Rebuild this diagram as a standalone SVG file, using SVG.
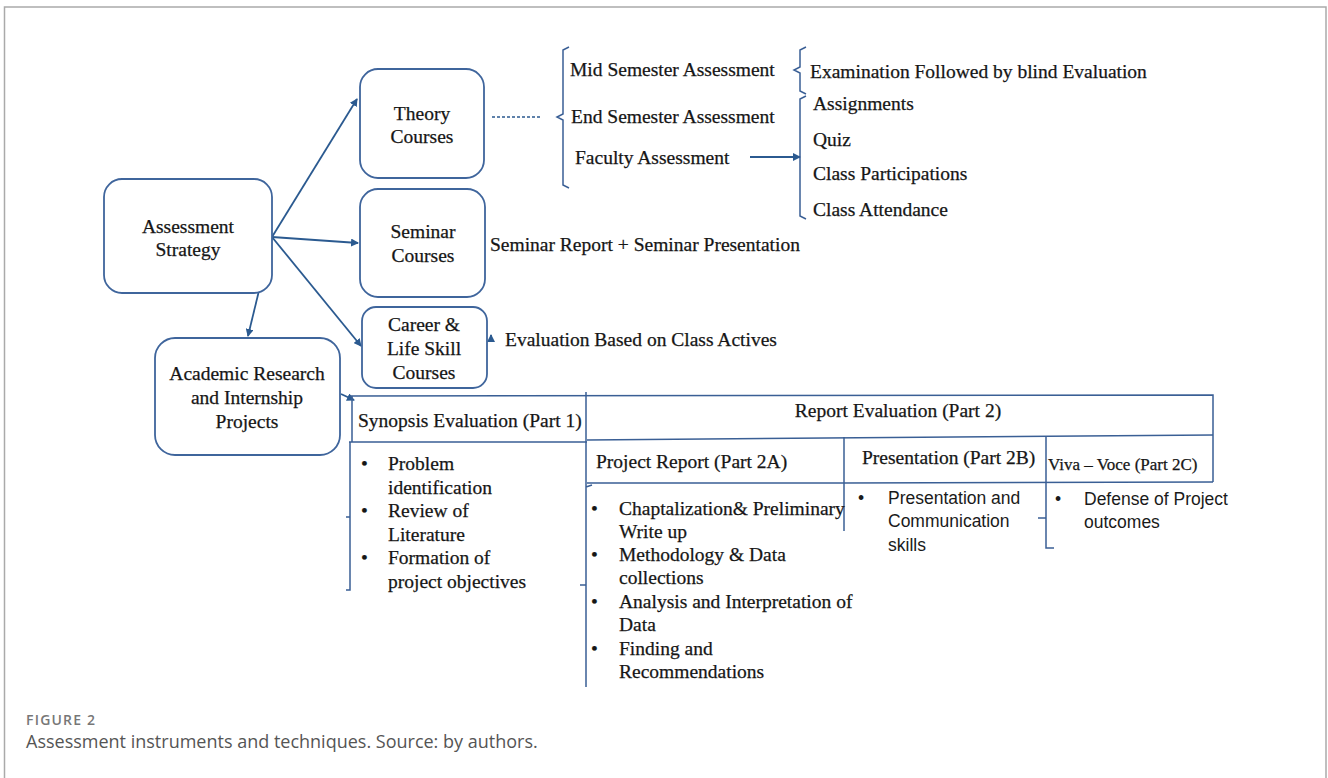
<svg xmlns="http://www.w3.org/2000/svg" width="1328" height="778" viewBox="0 0 1328 778">
<style>
.t{font-family:"Liberation Serif","Times New Roman",serif;font-size:19.5px;fill:#161616;stroke:#161616;stroke-width:0.25}
.c{text-anchor:middle}
.s{font-family:"Liberation Sans",Arial,sans-serif;font-size:17.5px;fill:#1a1a1a}
.box{fill:#fff;stroke:#3f659c;stroke-width:1.8}
.ln{fill:none;stroke:#3a5f95;stroke-width:1.5}
.ar{fill:none;stroke:#2b5a90;stroke-width:1.8;marker-end:url(#ah)}
.cap{font-family:"Open Sans","Noto Sans",sans-serif;fill:#666}
</style>
<defs>
<marker id="ah" markerWidth="8" markerHeight="8" refX="7" refY="4" orient="auto" markerUnits="userSpaceOnUse">
<path d="M0,0 L8,4 L0,8 z" fill="#2b5a90"/>
</marker>
</defs>
<rect width="1328" height="778" fill="#fff"/>
<path d="M4.5,778 L4.5,7 L1326,7 L1326,778" fill="none" stroke="#aaa" stroke-width="1.5"/>

<g id="connectors">
<line class="ar" x1="272" y1="237" x2="357" y2="99"/>
<line class="ar" x1="272" y1="237" x2="358" y2="243"/>
<line class="ar" x1="272" y1="237" x2="361" y2="346"/>
<line class="ar" x1="272" y1="237" x2="248" y2="336"/>
<line class="ar" x1="750" y1="157" x2="800" y2="157"/>
<line class="ar" x1="491" y1="342" x2="491" y2="335"/>
<line class="ar" x1="341" y1="394" x2="354" y2="400"/>
<line x1="492" y1="117" x2="540" y2="117" stroke="#2b5a90" stroke-width="1.3" stroke-dasharray="3,2"/>
<path class="ln" d="M569,47 L563,50 L563,114 L557,117 L563,120 L563,185 L569,188"/>
<path class="ln" d="M806,47 L800,50 L800,67 L794,70 L800,73 L800,91 L806,94"/>
<path class="ln" d="M806,96 L800,99 L800,216 L806,219"/>
</g>

<g id="assessment-strategy">
<rect class="box" x="104" y="179" width="168" height="114" rx="18" stroke="#2e5a8e" stroke-width="2.2"/>
<text class="t c" x="188" y="233">Assessment</text>
<text class="t c" x="188" y="256">Strategy</text>
</g>
<g id="theory-courses">
<rect class="box" x="360" y="69" width="124" height="109" rx="18"/>
<text class="t c" x="422" y="120">Theory</text>
<text class="t c" x="422" y="143">Courses</text>
</g>
<g id="seminar-courses">
<rect class="box" x="360" y="189" width="125" height="108" rx="18"/>
<text class="t c" x="423" y="238">Seminar</text>
<text class="t c" x="423" y="262">Courses</text>
</g>
<g id="career-courses">
<rect class="box" x="362" y="307" width="125" height="81" rx="14"/>
<text class="t c" x="424" y="331">Career &amp;</text>
<text class="t c" x="424" y="355">Life Skill</text>
<text class="t c" x="424" y="379">Courses</text>
</g>
<g id="academic-research">
<rect class="box" x="155" y="338" width="185" height="117" rx="20" stroke="#2e5a8e"/>
<text class="t c" x="247" y="380">Academic Research</text>
<text class="t c" x="247" y="404">and Internship</text>
<text class="t c" x="247" y="428">Projects</text>
</g>

<g id="theory-items">
<text class="t" x="570" y="76">Mid Semester Assessment</text>
<text class="t" x="571" y="123">End Semester Assessment</text>
<text class="t" x="575" y="164">Faculty Assessment</text>
<text class="t" x="810" y="78">Examination Followed by blind Evaluation</text>
<text class="t" x="813" y="110">Assignments</text>
<text class="t" x="813" y="146">Quiz</text>
<text class="t" x="813" y="180">Class Participations</text>
<text class="t" x="813" y="216">Class Attendance</text>
</g>
<g id="seminar-items">
<text class="t" x="490" y="251">Seminar Report + Seminar Presentation</text>
</g>
<g id="career-items">
<text class="t" x="505" y="346">Evaluation Based on Class Actives</text>
</g>

<g id="project-table">
<path class="ln" d="M350,396 L1213,395 L1213,482"/>
<path class="ln" d="M352,396 L352,442 M349,442 L587,442"/>
<path class="ln" d="M587,440 L1213,435"/>
<path class="ln" d="M586,392 L586,687 M586,487 L592,485 M586,585 L580,585"/>
<path class="ln" d="M587,483 L844,483 L1213,482"/>
<path class="ln" d="M844,437 L844,531"/>
<path class="ln" d="M1046,436 L1046,548 L1054,548 M1046,518 L1038,518"/>
<path class="ln" d="M350,442 L350,590 L346,590 M350,517 L346,517"/>
<text class="t" x="358" y="427">Synopsis Evaluation (Part 1)</text>
<text class="t c" x="898" y="417">Report Evaluation (Part 2)</text>
<text class="t" x="596" y="468">Project Report (Part 2A)</text>
<text class="t" x="862" y="464">Presentation (Part 2B)</text>
<text class="t" x="1048" y="470" style="font-size:17px">Viva – Voce (Part 2C)</text>

<text class="t" x="361" y="470">•</text>
<text class="t" x="388" y="470">Problem</text>
<text class="t" x="388" y="494">identification</text>
<text class="t" x="361" y="517">•</text>
<text class="t" x="388" y="517">Review of</text>
<text class="t" x="388" y="541">Literature</text>
<text class="t" x="361" y="564">•</text>
<text class="t" x="388" y="564">Formation of</text>
<text class="t" x="388" y="588">project objectives</text>

<text class="t" x="591" y="515">•</text>
<text class="t" x="619" y="515">Chaptalization&amp; Preliminary</text>
<text class="t" x="619" y="538">Write up</text>
<text class="t" x="591" y="561">•</text>
<text class="t" x="619" y="561">Methodology &amp; Data</text>
<text class="t" x="619" y="584">collections</text>
<text class="t" x="591" y="608">•</text>
<text class="t" x="619" y="608">Analysis and Interpretation of</text>
<text class="t" x="619" y="631">Data</text>
<text class="t" x="591" y="655">•</text>
<text class="t" x="619" y="655">Finding and</text>
<text class="t" x="619" y="678">Recommendations</text>

<text class="s" x="858" y="504">•</text>
<text class="s" x="888" y="504">Presentation and</text>
<text class="s" x="888" y="527">Communication</text>
<text class="s" x="888" y="551">skills</text>

<text class="s" x="1055" y="505">•</text>
<text class="s" x="1084" y="505">Defense of Project</text>
<text class="s" x="1084" y="528">outcomes</text>
</g>

<text class="cap" x="26" y="725" style="font-size:14px;font-weight:600;fill:#777;letter-spacing:1.2px">FIGURE 2</text>
<text class="cap" x="26" y="748" style="font-size:18px;fill:#555">Assessment instruments and techniques. Source: by authors.</text>
</svg>
